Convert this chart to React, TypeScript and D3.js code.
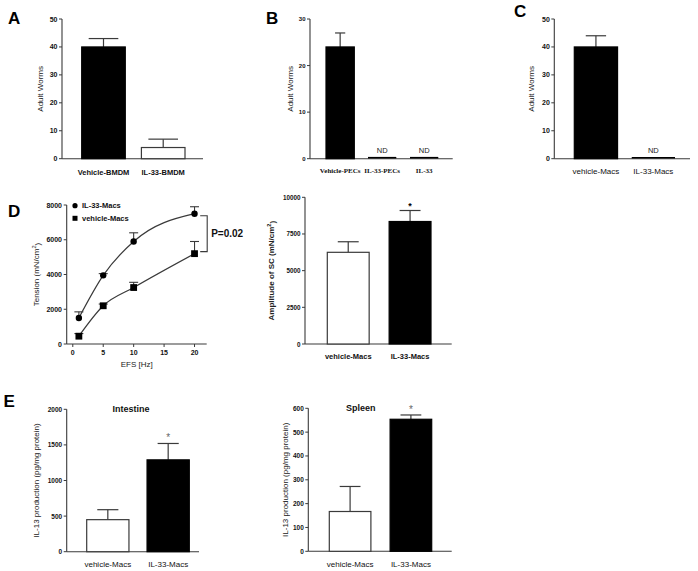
import React from "react";
import * as d3 from "d3";

const W = 698;
const H = 571;
const SANS = "'Liberation Sans', Arial, Helvetica, sans-serif";
const SERIF = "'Liberation Serif', 'Times New Roman', serif";

// ---------- Panel A ----------
const aCategories = ["Vehicle-BMDM", "IL-33-BMDM"];
const aValues = [40, 4];
const aErrors = [3, 3];
const aNotDetected = [false, false];
const aTicks = [0, 10, 20, 30, 40, 50];

// ---------- Panel B ----------
const bCategories = ["Vehicle-PECs", "IL-33-PECs", "IL-33"];
const bValues = [24, 0, 0];
const bErrors = [3, 0, 0];
const bNotDetected = [false, true, true];
const bTicks = [0, 10, 20, 30];

// ---------- Panel C ----------
const cCategories = ["vehicle-Macs", "IL-33-Macs"];
const cValues = [40, 0];
const cErrors = [4, 0];
const cNotDetected = [false, true];
const cTicks = [0, 10, 20, 30, 40, 50];

// ---------- Panel D (line) ----------
const dFrequencies = [1, 5, 10, 20];
const dIL33Tension = [1500, 3950, 5900, 7500];
const dIL33Errors = [350, 100, 500, 400];
const dVehicleTension = [450, 2200, 3250, 5200];
const dVehicleErrors = [150, 100, 300, 700];
const dXTicks = [0, 5, 10, 15, 20];
const dYTicks = [0, 2000, 4000, 6000, 8000];
const dSeriesNames = ["IL-33-Macs", "vehicle-Macs"];
const dPValue = "P=0.02";

// ---------- Panel D (bar) ----------
const d2Categories = ["vehicle-Macs", "IL-33-Macs"];
const d2Values = [6250, 8350];
const d2Errors = [720, 750];
const d2NotDetected = [false, false];
const d2Ticks = [0, 2500, 5000, 7500, 10000];

// ---------- Panel E ----------
const eCategories = ["vehicle-Macs", "IL-33-Macs"];
const eIntestineValues = [450, 1290];
const eIntestineErrors = [140, 230];
const eSpleenValues = [167, 554];
const eSpleenErrors = [105, 18];
const eNotDetected = [false, false];
const eIntestineTicks = [0, 500, 1000, 1500, 2000];
const eSpleenTicks = [0, 100, 200, 300, 400, 500, 600];

const AXIS = "#3a3a3a";

type BarLayout = {
  axisX: number;
  yTop: number;
  yBottom: number;
  xEnd: number;
  barStart: number;
  barEnd: number;
  padInner: number;
  capFrac: number;
  fills: string[];
  tickSize: number;
  tickWeight: string;
  catY: number;
  catSize: number;
  catWeight: string;
  catFamily: string;
  yTitleX: number;
  yTitleSize: number;
  yTitleWeight: string;
  starSize?: number;
  starWeight?: string;
  starColor?: string;
  starOffset?: number;
};

function YTitle({ x, y, text, sup, after, size, weight }: any) {
  return (
    <text
      transform={`translate(${x},${y}) rotate(-90)`}
      textAnchor="middle"
      dominantBaseline="central"
      fontFamily={SANS}
      fontSize={size}
      fontWeight={weight}
      fill="#222"
    >
      {text}
      {sup ? (
        <>
          <tspan dy={-3} fontSize={size * 0.7}>
            {sup}
          </tspan>
          <tspan dy={3}>{after}</tspan>
        </>
      ) : null}
    </text>
  );
}

function BarPanel({
  categories,
  values,
  errors,
  notDetected,
  ticks,
  layout,
  yTitle,
  yTitleSup,
  yTitleAfter,
  stars,
}: {
  categories: string[];
  values: number[];
  errors: number[];
  notDetected: boolean[];
  ticks: number[];
  layout: BarLayout;
  yTitle: string;
  yTitleSup?: string;
  yTitleAfter?: string;
  stars?: boolean[];
}) {
  const L = layout;
  const y = d3
    .scaleLinear()
    .domain([0, ticks[ticks.length - 1]])
    .range([L.yBottom, L.yTop]);
  const x = d3
    .scaleBand<string>()
    .domain(categories)
    .range([L.barStart, L.barEnd])
    .paddingInner(L.padInner)
    .paddingOuter(0);
  const bw = x.bandwidth();
  const capW = bw * L.capFrac;
  return (
    <g>
      {/* axes */}
      <line x1={L.axisX} x2={L.axisX} y1={L.yTop} y2={L.yBottom} stroke={AXIS} strokeWidth={1.1} />
      <line x1={L.axisX} x2={L.xEnd} y1={L.yBottom} y2={L.yBottom} stroke={AXIS} strokeWidth={1.1} />
      {ticks.map((t) => (
        <g key={t}>
          <line x1={L.axisX - 3} x2={L.axisX} y1={y(t)} y2={y(t)} stroke={AXIS} strokeWidth={1} />
          <text
            x={L.axisX - 4.5}
            y={y(t)}
            textAnchor="end"
            dominantBaseline="central"
            fontFamily={SANS}
            fontSize={L.tickSize}
            fontWeight={L.tickWeight}
            fill="#111"
          >
            {t}
          </text>
        </g>
      ))}
      {/* bars */}
      {categories.map((c, i) => {
        const bx = x(c)!;
        const cx = bx + bw / 2;
        if (notDetected[i]) {
          return (
            <g key={c}>
              <line x1={bx} x2={bx + bw} y1={L.yBottom - 1} y2={L.yBottom - 1} stroke="#000" strokeWidth={1.6} />
              <text
                x={cx}
                y={L.yBottom - 8}
                textAnchor="middle"
                dominantBaseline="central"
                fontFamily={SANS}
                fontSize={7.5}
                fill="#222"
              >
                ND
              </text>
            </g>
          );
        }
        const top = y(values[i]);
        const errTop = y(values[i] + errors[i]);
        return (
          <g key={c}>
            <line x1={cx} x2={cx} y1={top} y2={errTop} stroke={AXIS} strokeWidth={1.2} />
            <line x1={cx - capW / 2} x2={cx + capW / 2} y1={errTop} y2={errTop} stroke={AXIS} strokeWidth={1.2} />
            <rect
              x={bx}
              y={top}
              width={bw}
              height={L.yBottom - top}
              fill={L.fills[i]}
              stroke={L.fills[i] === "#000" ? "#000" : AXIS}
              strokeWidth={1.2}
            />
            {stars && stars[i] ? (
              <text
                x={cx}
                y={errTop - (L.starOffset ?? 6)}
                textAnchor="middle"
                dominantBaseline="central"
                fontFamily={SANS}
                fontSize={L.starSize ?? 9}
                fontWeight={L.starWeight ?? "normal"}
                fill={L.starColor ?? "#000"}
              >
                *
              </text>
            ) : null}
          </g>
        );
      })}
      {/* category labels */}
      {categories.map((c) => (
        <text
          key={"l" + c}
          x={x(c)! + bw / 2}
          y={L.catY}
          textAnchor="middle"
          dominantBaseline="central"
          fontFamily={L.catFamily}
          fontSize={L.catSize}
          fontWeight={L.catWeight}
          fill="#111"
        >
          {c}
        </text>
      ))}
      <YTitle
        x={L.yTitleX}
        y={(L.yTop + L.yBottom) / 2}
        text={yTitle}
        sup={yTitleSup}
        after={yTitleAfter}
        size={L.yTitleSize}
        weight={L.yTitleWeight}
      />
    </g>
  );
}

const base = {
  capFrac: 0.5,
  fills: ["#000", "#fff"],
  tickSize: 7,
  tickWeight: "bold",
  catSize: 7.5,
  catWeight: "bold",
  catFamily: SANS,
  yTitleSize: 8,
  yTitleWeight: "normal",
};

const layoutA: BarLayout = {
  ...base,
  axisX: 62,
  yTop: 19,
  yBottom: 158.7,
  xEnd: 203,
  barStart: 81.7,
  barEnd: 185,
  padInner: 0.27,
  capFrac: 0.68,
  catY: 172,
  yTitleX: 40,
};

const layoutB: BarLayout = {
  ...base,
  axisX: 310,
  yTop: 19,
  yBottom: 158.7,
  xEnd: 452.7,
  barStart: 326,
  barEnd: 438.3,
  padInner: 0.326,
  capFrac: 0.36,
  catY: 171,
  catSize: 7,
  catFamily: SERIF,
  tickSize: 6,
  yTitleX: 290,
};

const layoutC: BarLayout = {
  ...base,
  axisX: 554.3,
  yTop: 19,
  yBottom: 158.7,
  xEnd: 690,
  barStart: 574.3,
  barEnd: 675,
  padInner: 0.247,
  capFrac: 0.47,
  catY: 171,
  catWeight: "normal",
  catSize: 8,
  yTitleX: 531.7,
};

const layoutD2: BarLayout = {
  ...base,
  axisX: 305,
  yTop: 197.3,
  yBottom: 344,
  xEnd: 451.7,
  barStart: 327.3,
  barEnd: 431,
  padInner: 0.323,
  capFrac: 0.5,
  fills: ["#fff", "#000"],
  tickSize: 6.3,
  catY: 356.7,
  yTitleX: 271.7,
  yTitleWeight: "bold",
  starSize: 9,
  starWeight: "bold",
  starColor: "#000",
  starOffset: 4.5,
};

const layoutEI: BarLayout = {
  ...base,
  axisX: 66.7,
  yTop: 409.3,
  yBottom: 551.7,
  xEnd: 199,
  barStart: 86.7,
  barEnd: 189.3,
  padInner: 0.3,
  capFrac: 0.5,
  fills: ["#fff", "#000"],
  tickSize: 6.5,
  catY: 564,
  catWeight: "normal",
  catSize: 8,
  yTitleX: 36.7,
  starSize: 10,
  starColor: "#666",
  starOffset: 5.5,
};

const layoutES: BarLayout = {
  ...base,
  axisX: 308.3,
  yTop: 408.3,
  yBottom: 551.3,
  xEnd: 451.7,
  barStart: 329.3,
  barEnd: 431.7,
  padInner: 0.316,
  capFrac: 0.5,
  fills: ["#fff", "#000"],
  tickSize: 6.5,
  catY: 564,
  catWeight: "normal",
  catSize: 8,
  yTitleX: 285,
  starSize: 10,
  starColor: "#666",
  starOffset: 5.5,
};

function LinePanel() {
  const x = d3.scaleLinear().domain([-1, 22]).range([66.7, 206.7]);
  const y = d3.scaleLinear().domain([0, 8000]).range([344, 205]);
  const line = d3
    .line<number>()
    .x((_, i) => x(dFrequencies[i]))
    .y((v) => y(v))
    .curve(d3.curveMonotoneX);
  const series = [
    { name: dSeriesNames[0], vals: dIL33Tension, errs: dIL33Errors, shape: "circle" },
    { name: dSeriesNames[1], vals: dVehicleTension, errs: dVehicleErrors, shape: "square" },
  ];
  const capW = 9;
  const lastIL = y(dIL33Tension[dIL33Tension.length - 1]);
  const lastVe = y(dVehicleTension[dVehicleTension.length - 1]);
  const bx = x(22) + 0.5;
  return (
    <g>
      <line x1={66.7} x2={66.7} y1={205} y2={344} stroke={AXIS} strokeWidth={1.1} />
      <line x1={66.7} x2={206.7} y1={344} y2={344} stroke={AXIS} strokeWidth={1.1} />
      {dYTicks.map((t) => (
        <g key={t}>
          <line x1={63.7} x2={66.7} y1={y(t)} y2={y(t)} stroke={AXIS} />
          <text
            x={62}
            y={y(t)}
            textAnchor="end"
            dominantBaseline="central"
            fontFamily={SANS}
            fontSize={7}
            fontWeight="bold"
            fill="#111"
          >
            {t}
          </text>
        </g>
      ))}
      {dXTicks.map((t) => (
        <g key={t}>
          <line x1={x(t)} x2={x(t)} y1={344} y2={347} stroke={AXIS} />
          <text
            x={x(t)}
            y={352}
            textAnchor="middle"
            dominantBaseline="central"
            fontFamily={SANS}
            fontSize={7}
            fontWeight="bold"
            fill="#111"
          >
            {t}
          </text>
        </g>
      ))}
      {series.map((s) => (
        <g key={s.name}>
          <path d={line(s.vals) || ""} fill="none" stroke={AXIS} strokeWidth={1.2} />
          {s.vals.map((v, i) => {
            const px = x(dFrequencies[i]);
            const py = y(v);
            const ey = y(v + s.errs[i]);
            return (
              <g key={i}>
                <line x1={px} x2={px} y1={py} y2={ey} stroke={AXIS} strokeWidth={1.1} />
                <line x1={px - capW / 2} x2={px + capW / 2} y1={ey} y2={ey} stroke={AXIS} strokeWidth={1.1} />
                {s.shape === "circle" ? (
                  <circle cx={px} cy={py} r={3.2} fill="#000" />
                ) : (
                  <rect x={px - 3.4} y={py - 3.4} width={6.8} height={6.8} fill="#000" />
                )}
              </g>
            );
          })}
        </g>
      ))}
      {/* legend */}
      <circle cx={75} cy={205.7} r={2.6} fill="#000" />
      <text x={82} y={205.7} dominantBaseline="central" fontFamily={SANS} fontSize={7.5} fontWeight="bold" fill="#111">
        {dSeriesNames[0]}
      </text>
      <rect x={72.5} y={215.8} width={5} height={5} fill="#000" />
      <text x={82} y={218.3} dominantBaseline="central" fontFamily={SANS} fontSize={7.5} fontWeight="bold" fill="#111">
        {dSeriesNames[1]}
      </text>
      {/* bracket */}
      <path
        d={`M${bx - 7},${lastIL + 2} H${bx} V${lastVe - 2} H${bx - 7}`}
        fill="none"
        stroke={AXIS}
        strokeWidth={1.1}
      />
      <text
        x={bx + 4}
        y={(lastIL + lastVe) / 2}
        dominantBaseline="central"
        fontFamily={SANS}
        fontSize={10}
        fontWeight="bold"
        fill="#111"
      >
        {dPValue}
      </text>
      <text
        x={136.7}
        y={364}
        textAnchor="middle"
        dominantBaseline="central"
        fontFamily={SANS}
        fontSize={8}
        fill="#222"
      >
        EFS [Hz]
      </text>
      <YTitle x={36.7} y={274.5} text="Tension (mN/cm" sup="2" after=")" size={8} weight="normal" />
    </g>
  );
}

function PanelLetter({ x, y, t }: { x: number; y: number; t: string }) {
  return (
    <text x={x} y={y} fontFamily={SANS} fontSize={17} fontWeight="bold" fill="#000">
      {t}
    </text>
  );
}

export default function App() {
  return (
    <svg
      width={W}
      height={H}
      viewBox={`0 0 ${W} ${H}`}
      style={{ position: "absolute", left: 0, top: 0, background: "#fff" }}
    >
      <rect width={W} height={H} fill="#fff" />
      <PanelLetter x={8} y={24} t="A" />
      <PanelLetter x={266} y={24} t="B" />
      <PanelLetter x={514} y={17} t="C" />
      <PanelLetter x={8} y={217} t="D" />
      <PanelLetter x={3.5} y={407} t="E" />

      <BarPanel
        categories={aCategories}
        values={aValues}
        errors={aErrors}
        notDetected={aNotDetected}
        ticks={aTicks}
        layout={layoutA}
        yTitle="Adult Worms"
      />
      <BarPanel
        categories={bCategories}
        values={bValues}
        errors={bErrors}
        notDetected={bNotDetected}
        ticks={bTicks}
        layout={layoutB}
        yTitle="Adult Worms"
      />
      <BarPanel
        categories={cCategories}
        values={cValues}
        errors={cErrors}
        notDetected={cNotDetected}
        ticks={cTicks}
        layout={layoutC}
        yTitle="Adult Worms"
      />
      <LinePanel />
      <BarPanel
        categories={d2Categories}
        values={d2Values}
        errors={d2Errors}
        notDetected={d2NotDetected}
        ticks={d2Ticks}
        layout={layoutD2}
        yTitle="Amplitude of SC (mN/cm"
        yTitleSup="2"
        yTitleAfter=")"
        stars={[false, true]}
      />
      <BarPanel
        categories={eCategories}
        values={eIntestineValues}
        errors={eIntestineErrors}
        notDetected={eNotDetected}
        ticks={eIntestineTicks}
        layout={layoutEI}
        yTitle="IL-13 production (pg/mg protein)"
        stars={[false, true]}
      />
      <text x={131} y={409.3} textAnchor="middle" dominantBaseline="central" fontFamily={SANS} fontSize={9} fontWeight="bold" fill="#111">
        Intestine
      </text>
      <BarPanel
        categories={eCategories}
        values={eSpleenValues}
        errors={eSpleenErrors}
        notDetected={eNotDetected}
        ticks={eSpleenTicks}
        layout={layoutES}
        yTitle="IL-13 production (pg/mg protein)"
        stars={[false, true]}
      />
      <text x={360.7} y={408.3} textAnchor="middle" dominantBaseline="central" fontFamily={SANS} fontSize={9} fontWeight="bold" fill="#111">
        Spleen
      </text>
    </svg>
  );
}
